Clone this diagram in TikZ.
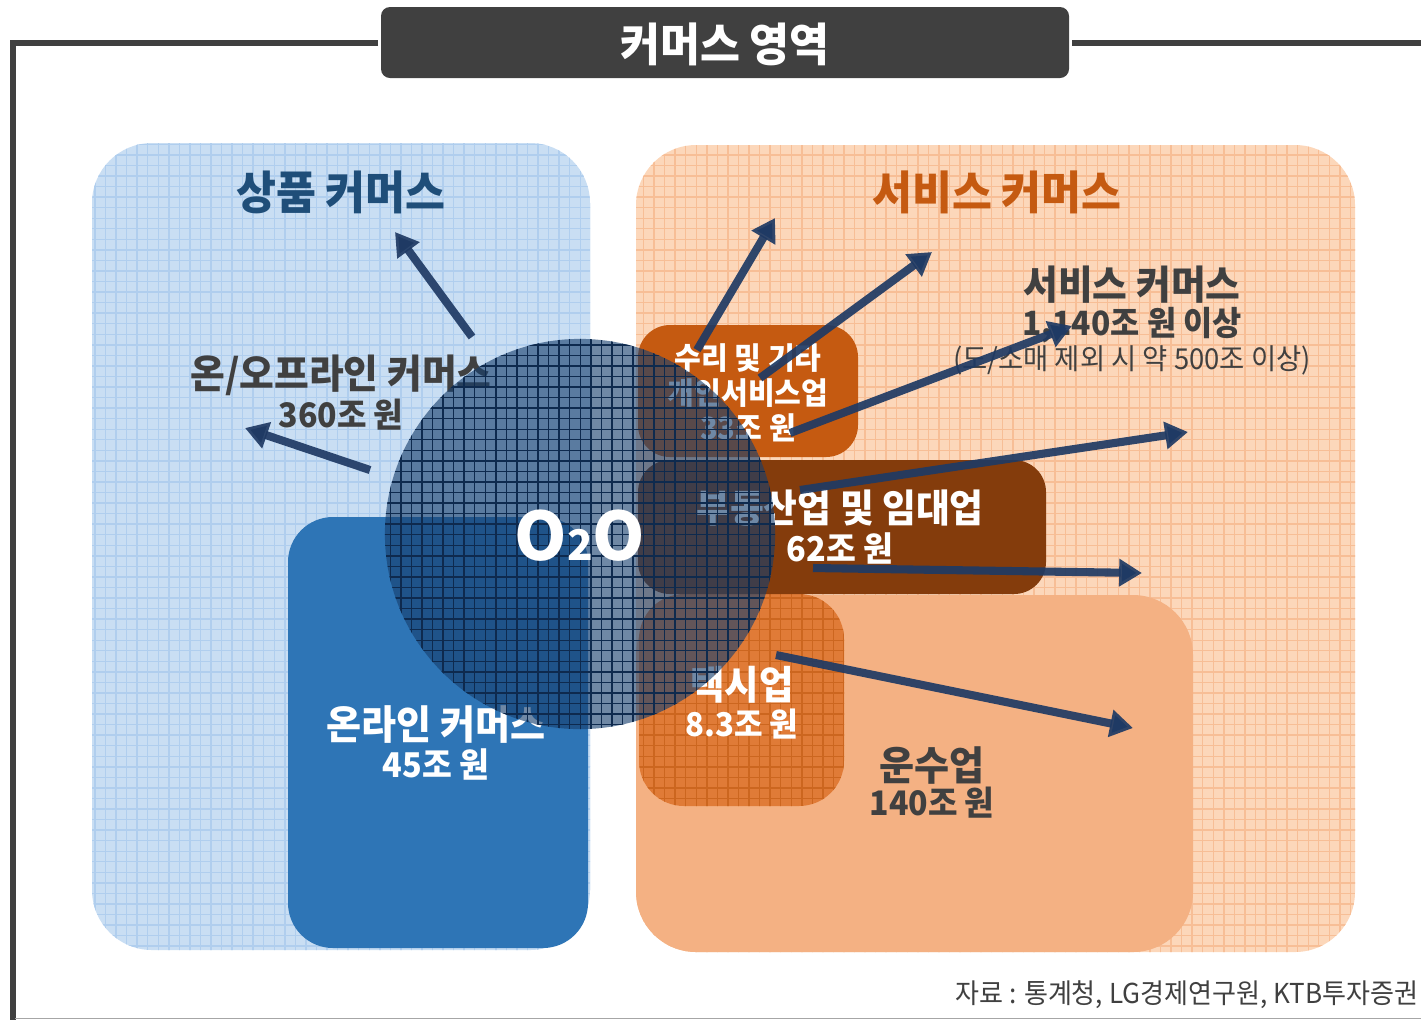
\documentclass[tikz,border=0pt]{standalone}
\usepackage{fontspec}
\setmainfont{Noto Sans CJK KR}[FakeStretch=0.95]
\newfontfamily\ofont{Noto Sans CJK KR}
\usetikzlibrary{arrows.meta,patterns}
\definecolor{dgray}{HTML}{404040}
\definecolor{blbg}{HTML}{C9DEF3}
\definecolor{blgrid}{HTML}{B0CEEE}
\definecolor{dblue}{HTML}{1F4E79}
\definecolor{onl}{HTML}{2E75B6}
\definecolor{orbg}{HTML}{FCD7BA}
\definecolor{orgrid}{HTML}{F7BE96}
\definecolor{ortxt}{HTML}{C55A11}
\definecolor{repc}{HTML}{C55A11}
\definecolor{rec}{HTML}{843C0C}
\definecolor{trc}{HTML}{F4B183}
\definecolor{taxc}{HTML}{E07B37}
\definecolor{taxg}{HTML}{CC661F}
\definecolor{cirf}{HTML}{173F6E}
\definecolor{cirg}{HTML}{0E2A4E}
\definecolor{arrc}{HTML}{1F3A64}
\tikzset{
  tb/.style={font=\bfseries\fontsize{#1}{#1}\selectfont, inner sep=0pt, align=center},
  tn/.style={font=\fontsize{#1}{#1}\selectfont, inner sep=0pt, align=center},
  arr/.style={draw=arrc, line width=2.3pt, draw opacity=0.92, -{Triangle[length=6.5pt,width=7.5pt]}},
  frameline/.style={draw=dgray, line width=1.5pt},
}
\begin{document}
\begin{tikzpicture}[x=0.01cm,y=-0.01cm]
\useasboundingbox (0,0) rectangle (1421,1020);
% frame
\draw[frameline] (378,43) -- (13,43) -- (13,1020);
\draw[frameline] (1072,43) -- (1421,43);
\draw[draw=gray!70, line width=0.5pt] (15,1018.5) -- (1421,1018.5);
% title
\fill[dgray, rounded corners=0.09cm] (381,7) rectangle (1069,78);
\node[tb=13, text=white] (title) at (725,44) {커머스 영역};
% big boxes
\path[fill=blbg, rounded corners=0.6cm, postaction={pattern=grid, pattern color=blgrid}] (92,143) rectangle (590,950);
\path[fill=orbg, rounded corners=0.6cm, postaction={pattern=grid, pattern color=orgrid}] (636,145) rectangle (1355,952);
% inner boxes
\fill[onl, rounded corners=0.45cm] (288,517) rectangle (588,948);
\fill[trc, rounded corners=0.6cm] (636,595) rectangle (1193,952);
\path[fill=taxc, rounded corners=0.45cm, postaction={pattern=grid, pattern color=taxg}] (639,594) rectangle (844,806);
\fill[repc, rounded corners=0.32cm] (638,325) rectangle (858,457);
\fill[rec, rounded corners=0.32cm] (638,460) rectangle (1046,594);
% texts
\node[tb=13, text=dblue] (sp) at (341,192) {상품 커머스};
\node[tb=13, text=ortxt] (sv) at (997,192) {서비스 커머스};
\node[tb=11.3, text=dgray] (onoff) at (341,375) {온/오프라인 커머스};
\node[tb=9.6, text=dgray] (onoffv) at (341,415) {360조 원};
\node[tb=11.3, text=dgray] (svc) at (1132,285) {서비스 커머스};
\node[tb=9.5, text=dgray] (svcv) at (1132,325) {1,140조 원 이상};
\node[tn=8.2, text=dgray] (svcn) at (1132,360) {(도/소매 제외 시 약 500조 이상)};
\node[tb=8.7, text=white] (rep1) at (748,358) {수리 및 기타};
\node[tb=8.7, text=white] (rep2) at (748,393) {개인서비스업};
\node[tb=8.7, text=white] (rep3) at (748,428) {33조 원};
\node[tb=11, text=white] (re1) at (840,508) {부동산업 및 임대업};
\node[tb=9.7, text=white] (re2) at (840,548) {62조 원};
\node[tb=11.2, text=white] (tx1) at (742,685) {택시업};
\node[tb=9.3, text=white] (tx2) at (742,724) {8.3조 원};
\node[tb=11.4, text=dgray] (tr1) at (932,765) {운수업};
\node[tb=9.6, text=dgray] (tr2) at (932,803) {140조 원};
\node[tb=11.4, text=white] (on1) at (436,724) {온라인 커머스};
\node[tb=9.7, text=white] (on2) at (436,764) {45조 원};
\node[tn=7.8, text=dgray, anchor=east] (src) at (1419,995) {자료 : 통계청, LG경제연구원, KTB투자증권};
% circle
\fill[cirf, fill opacity=0.62] (580,534) circle[radius=1.95cm];
\fill[pattern=grid, pattern color=cirg, fill opacity=0.35] (580,534) circle[radius=1.95cm];
\node[inner sep=0pt, text=white, font=\ofont\bfseries\fontsize{19}{19}\selectfont] (o2o) at (580,536) {O{\fontsize{12}{12}\selectfont 2}O};
% arrows
\coordinate (a1s) at (472,337); \coordinate (a1e) at (395,232);
\coordinate (a2s) at (370,470); \coordinate (a2e) at (245,428);
\coordinate (a3s) at (697,350); \coordinate (a3e) at (775,218);
\coordinate (a4s) at (760,378); \coordinate (a4e) at (932,252);
\coordinate (a5s) at (790,433); \coordinate (a5e) at (1072,326);
\coordinate (a6s) at (800,490); \coordinate (a6e) at (1188,432);
\coordinate (a7s) at (813,568); \coordinate (a7e) at (1142,573);
\coordinate (a8s) at (776,655); \coordinate (a8e) at (1133,728);
\foreach \i in {1,...,8} {\draw[arr] (a\i s) -- (a\i e);}
\end{tikzpicture}
\end{document}
